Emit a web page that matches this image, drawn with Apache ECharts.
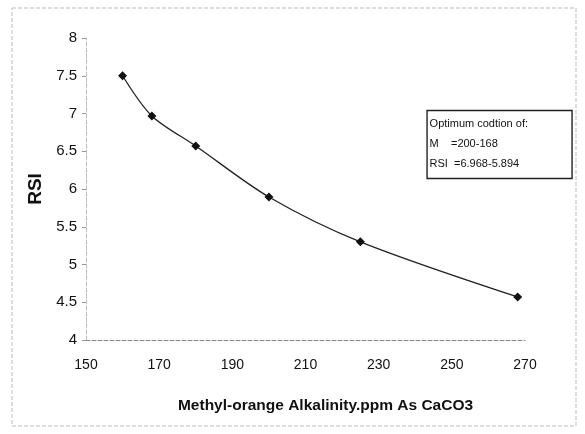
<!DOCTYPE html>
<html>
<head>
<meta charset="utf-8">
<script src="https://cdn.jsdelivr.net/npm/echarts@6/dist/echarts.min.js"></script>
<style>
html,body{margin:0;padding:0;background:#fff;}
#main{width:585px;height:434px;}
</style>
</head>
<body>
<div id="main"></div>
<script>
// Data
const alkalinity = [160, 168, 180, 200, 225, 268];
const rsiValues = [7.5, 6.968, 6.57, 5.894, 5.3, 4.57];
const xTicks = [150, 170, 190, 210, 230, 250, 270];
const yTicks = [4, 4.5, 5, 5.5, 6, 6.5, 7, 7.5, 8];
const legendLines = ['Optimum codtion of:', 'M    =200-168', 'RSI  =6.968-5.894'];

const chart = echarts.init(document.getElementById('main'), null, {renderer: 'canvas'});
const font = '"Liberation Sans", Arial, sans-serif';

chart.setOption({
  backgroundColor: '#fff',
  animation: false,
  title: {
    text: legendLines.join('\n'),
    right: 13,
    top: 110,
    padding: [4, 44, 5, 3],
    borderColor: '#222',
    borderWidth: 1.4,
    backgroundColor: '#fff',
    textStyle: {fontFamily: font, fontSize: 11, fontWeight: 'normal', color: '#111', lineHeight: 20}
  },
  graphic: [{
    type: 'rect',
    shape: {x: 12, y: 8, width: 564, height: 418},
    style: {fill: 'none', stroke: '#bbb', lineWidth: 1, lineDash: [4, 2]},
    silent: true, z: -1
  }],
  grid: {left: 86, right: 60, top: 38, bottom: 94},
  xAxis: {
    type: 'value',
    min: xTicks[0], max: xTicks[xTicks.length - 1], interval: 20,
    name: 'Methyl-orange Alkalinity.ppm As CaCO3',
    nameLocation: 'middle', nameGap: 58,
    nameTextStyle: {fontFamily: font, fontSize: 15.5, fontWeight: 'bold', color: '#111', padding: [0, 0, 0, 40]},
    axisLine: {show: true, lineStyle: {color: '#888', width: 1, type: 'dashed'}},
    axisTick: {show: false},
    axisLabel: {fontFamily: font, fontSize: 14, color: '#111', margin: 18},
    splitLine: {show: false}
  },
  yAxis: {
    type: 'value',
    min: yTicks[0], max: yTicks[yTicks.length - 1], interval: 0.5,
    name: 'RSI',
    nameLocation: 'middle', nameGap: 37,
    nameTextStyle: {fontFamily: font, fontSize: 19, fontWeight: 'bold', color: '#111'},
    axisLine: {show: true, lineStyle: {color: '#bbb', width: 1, type: 'dashed'}},
    axisTick: {show: true, length: 4, lineStyle: {color: '#999'}},
    axisLabel: {fontFamily: font, fontSize: 15, color: '#111', margin: 9},
    splitLine: {show: false}
  },
  series: [{
    type: 'line',
    data: alkalinity.map((x, i) => [x, rsiValues[i]]),
    smooth: 0.3,
    symbol: 'diamond',
    symbolSize: 9,
    itemStyle: {color: '#111'},
    lineStyle: {color: '#222', width: 1.3}
  }]
});
</script>
</body>
</html>
